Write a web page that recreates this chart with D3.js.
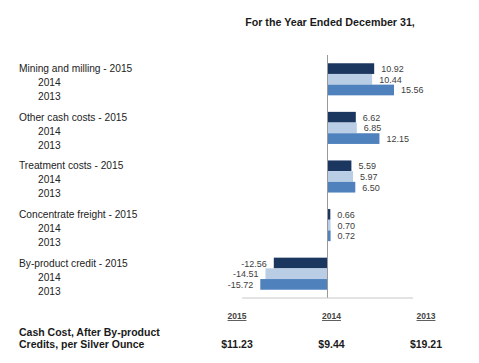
<!DOCTYPE html>
<html><head><meta charset="utf-8">
<script src="https://cdn.jsdelivr.net/npm/d3@7"></script>
<style>
body{margin:0;background:#fff;}
text{font-family:"Liberation Sans",Arial,sans-serif;}
</style></head>
<body><svg id="c" width="479" height="363"></svg>
<script>
const categories = ["Mining and milling","Other cash costs","Treatment costs","Concentrate freight","By-product credit"];
const years = ["2015","2014","2013"];
const v2015 = [10.92, 6.62, 5.59, 0.66, -12.56];
const v2014 = [10.44, 6.85, 5.97, 0.70, -14.51];
const v2013 = [15.56, 12.15, 6.50, 0.72, -15.72];
const totals = ["$11.23","$9.44","$19.21"];
const colors = ["#1B365F","#B9CDE5","#4F81BD"];

const series = [v2015, v2014, v2013];
const svg = d3.select("#c");

const x = d3.scaleLinear().domain([-20, 20]).range([242, 413]);
const y = d3.scaleBand().domain(categories).range([55, 298]).paddingInner(0.34).paddingOuter(0.17);
const yi = d3.scaleBand().domain(years).range([0, y.bandwidth()]);

// title
svg.append("text").attr("x", 330).attr("y", 26).attr("text-anchor","middle")
  .attr("font-size", 10.7).attr("font-weight","bold").attr("fill","#1a1a1a")
  .text("For the Year Ended December 31,");

// bars
categories.forEach((c, i) => {
  const g = svg.append("g").attr("transform", `translate(0,${y(c)})`);
  years.forEach((yr, j) => {
    const v = series[j][i];
    g.append("rect")
      .attr("x", Math.min(x(0), x(v))).attr("width", Math.abs(x(v) - x(0)))
      .attr("y", yi(yr)).attr("height", yi.bandwidth())
      .attr("fill", colors[j]);
    g.append("text")
      .attr("x", v >= 0 ? x(v) + 7 : x(v) - 7)
      .attr("y", yi(yr) + yi.bandwidth()/2 + 3.5)
      .attr("text-anchor", v >= 0 ? "start" : "end")
      .attr("font-size", 9).attr("fill", "#404040")
      .text(v.toFixed(2));
  });
  // category labels
  const lab = [c + " - 2015", "2014", "2013"];
  lab.forEach((t, j) => {
    svg.append("text")
      .attr("x", j === 0 ? 19 : 38)
      .attr("y", y(c) + 9 + j * 14)
      .attr("font-size", 10.2).attr("fill", "#222")
      .text(t);
  });
});

// zero axis
svg.append("line").attr("x1", x(0)).attr("x2", x(0)).attr("y1", 55).attr("y2", 298)
  .attr("stroke", "#999").attr("stroke-width", 1);
// bottom axis
svg.append("line").attr("x1", x(-20)).attr("x2", x(20)).attr("y1", 298).attr("y2", 298)
  .attr("stroke", "#c8c8c8").attr("stroke-width", 1);

// bottom table
const colX = d3.scalePoint().domain(years).range([237, 426]);
years.forEach((yr, j) => {
  svg.append("text").attr("x", colX(yr)).attr("y", 319).attr("text-anchor","middle")
    .attr("font-size", 8.5).attr("font-weight","bold").attr("fill","#444")
    .attr("text-decoration","underline").text(yr);
  svg.append("text").attr("x", colX(yr)).attr("y", 348).attr("text-anchor","middle")
    .attr("font-size", 10.5).attr("font-weight","bold").attr("fill","#1a1a1a")
    .text(totals[j]);
});
svg.append("text").attr("x", 19).attr("y", 336).attr("font-size", 10.5).attr("font-weight","bold").attr("fill","#1a1a1a")
  .text("Cash Cost, After By-product");
svg.append("text").attr("x", 19).attr("y", 348).attr("font-size", 10.5).attr("font-weight","bold").attr("fill","#1a1a1a")
  .text("Credits, per Silver Ounce");
</script></body></html>
